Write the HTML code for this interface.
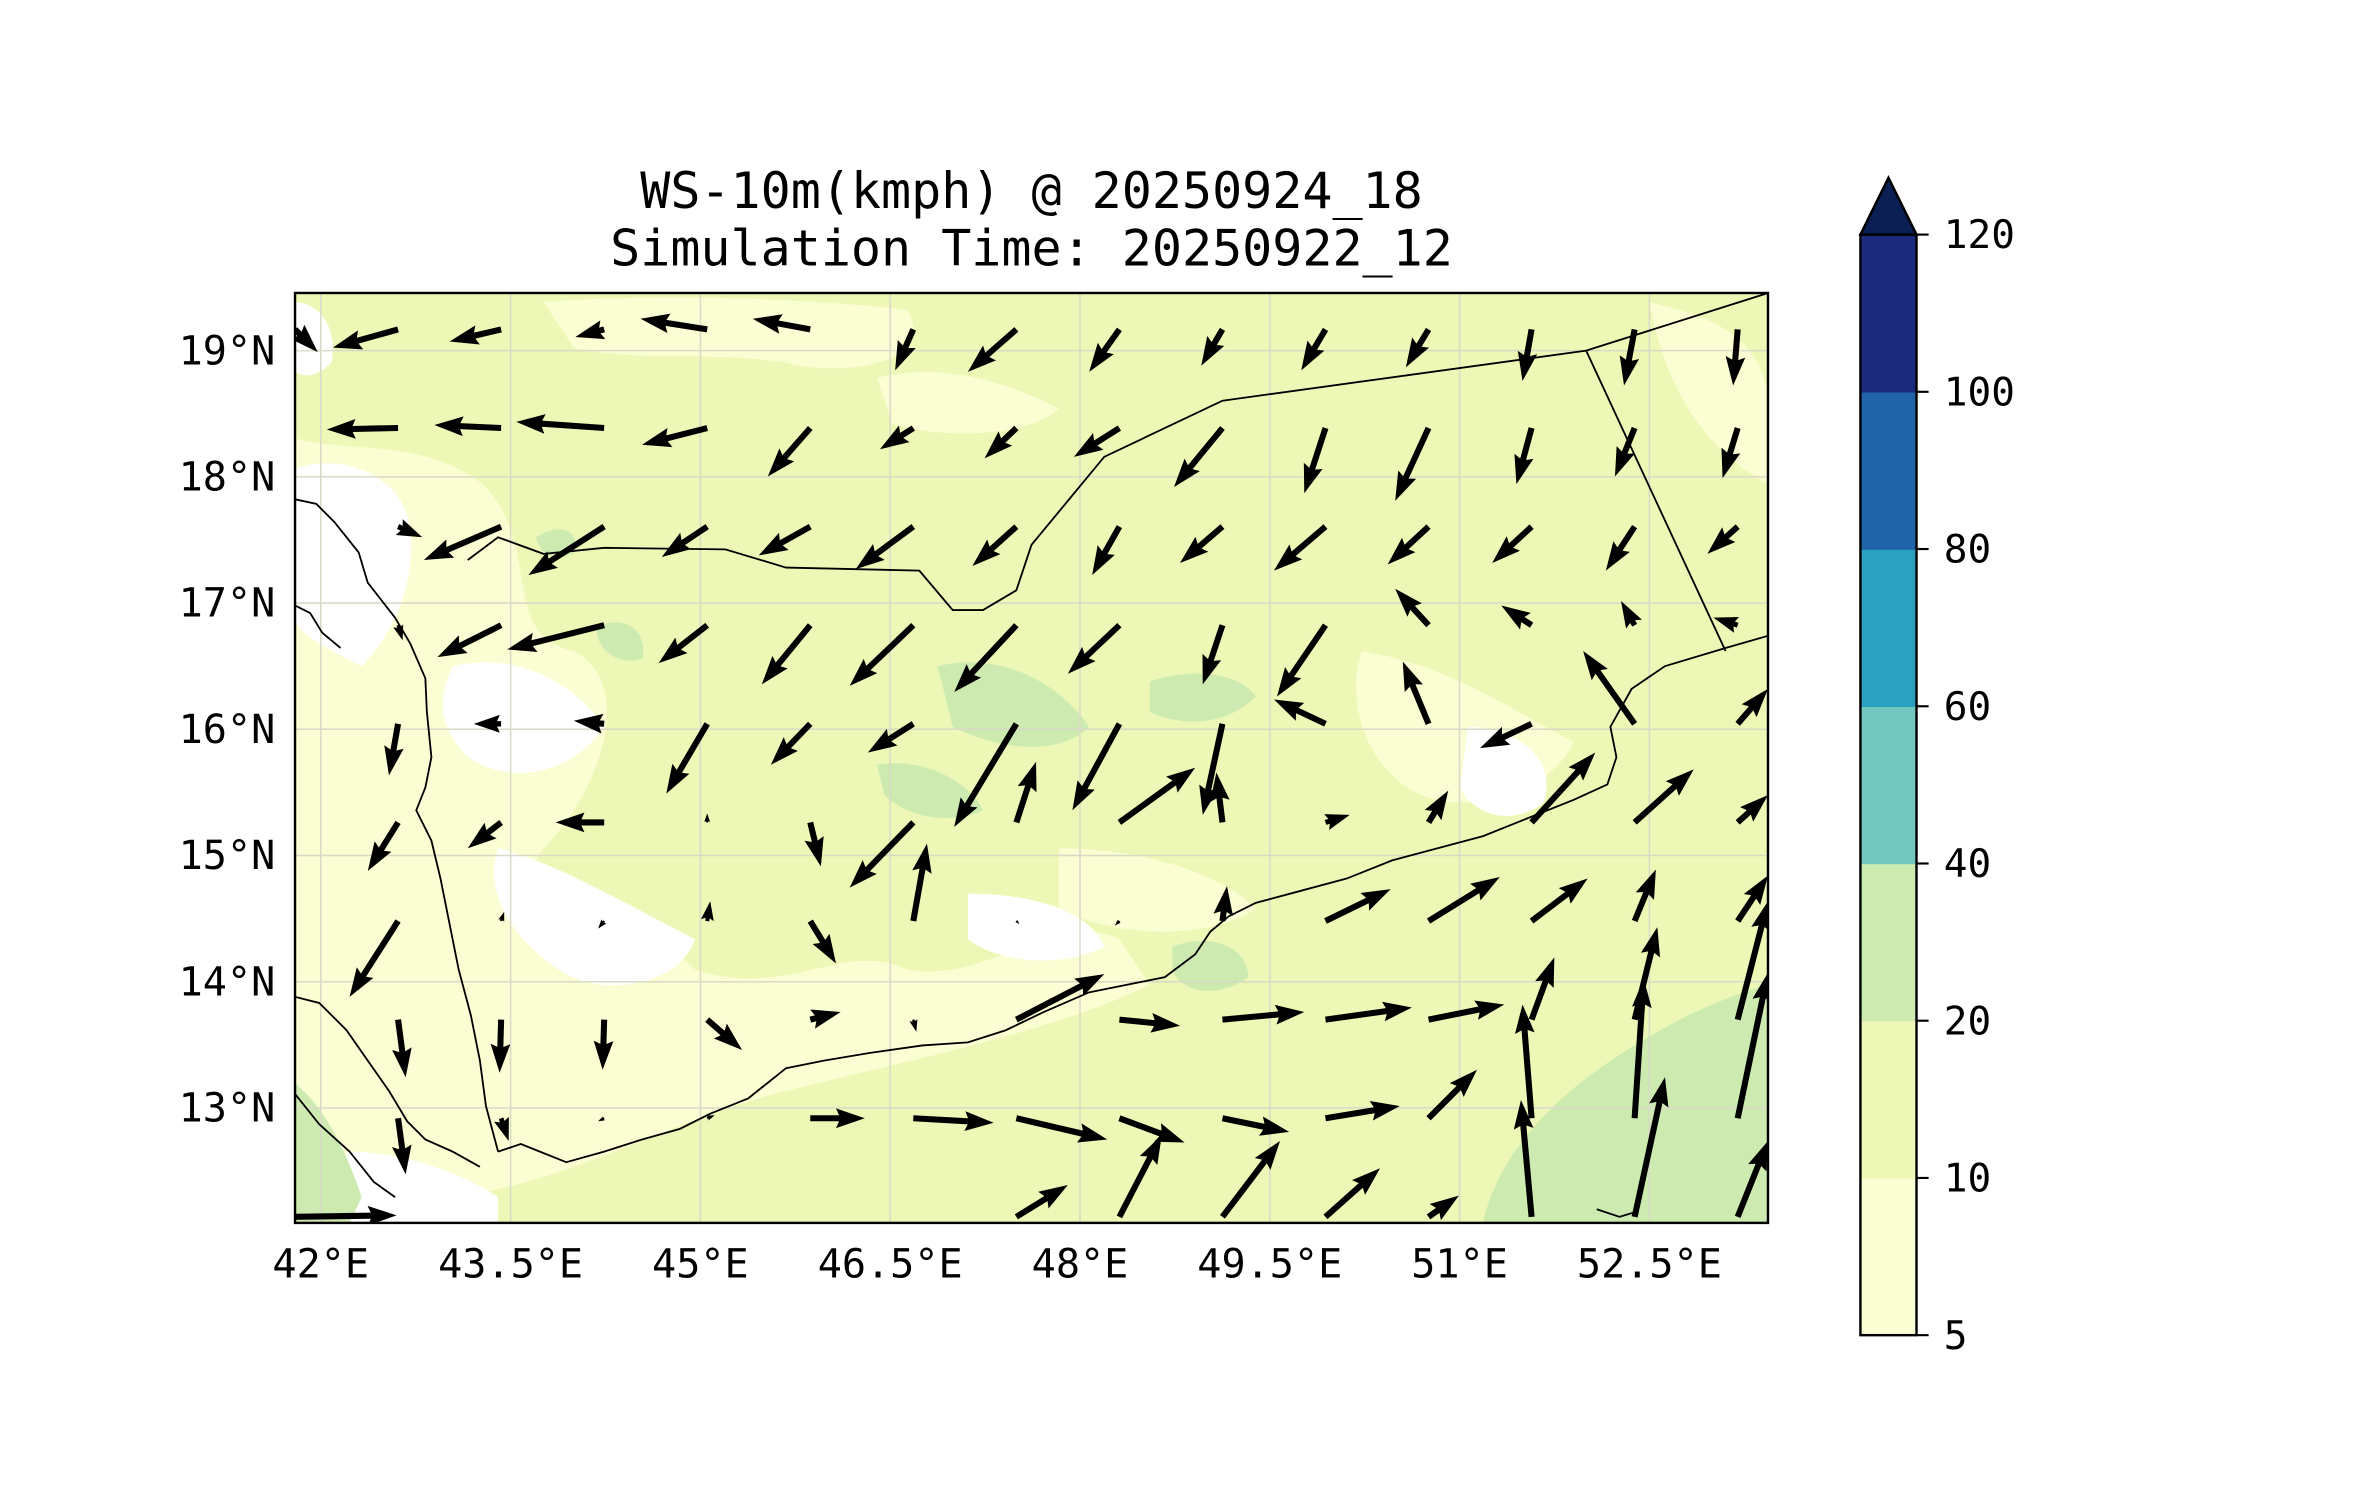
<!DOCTYPE html>
<html><head><meta charset="utf-8"><style>
html,body{margin:0;padding:0;background:#fff;}
svg{display:block;}
text{font-family:"DejaVu Sans Mono","Liberation Mono",monospace;fill:#000;}
</style></head><body>
<svg id="fig" width="2371" height="1500" viewBox="1.32 0.86 1564.6 988.8" preserveAspectRatio="none" xmlns="http://www.w3.org/2000/svg">
<defs><clipPath id="pc"><rect x="196" y="194" width="972" height="613"/></clipPath></defs>
<text x="682" y="138" font-size="33" text-anchor="middle">WS-10m(kmph) @ 20250924_18</text>
<text x="682" y="176" font-size="33" text-anchor="middle">Simulation Time: 20250922_12</text>
<g clip-path="url(#pc)">
<rect x="196" y="194" width="972" height="613" fill="#eef8b6"/>
<g fill="#fbfdd2">
<path d="M196,290 C240,300 280,290 320,320 C360,360 330,420 380,430 C420,450 400,520 360,560 C330,600 420,600 460,640 C520,660 560,620 600,640 C650,650 700,600 740,620 L760,650 C700,680 600,700 520,720 C440,740 380,780 300,790 L196,790 Z"/>
<path d="M360,200 C420,195 520,196 600,205 C620,240 560,250 520,240 C470,232 420,240 380,230 Z"/>
<path d="M580,250 C620,240 660,250 700,270 C680,290 620,290 590,280 Z"/>
<path d="M900,430 C960,440 1000,470 1040,490 C1020,530 960,540 930,520 C900,500 890,460 900,430 Z"/>
<path d="M700,560 C740,560 800,570 830,600 C800,620 740,620 700,600 Z"/>
<path d="M1090,200 C1130,210 1160,220 1168,260 L1168,320 C1130,300 1100,260 1090,200 Z"/>
</g>
<g fill="#ffffff">
<path d="M196,310 C220,300 260,310 270,340 C280,380 260,420 240,440 C220,430 200,420 196,410 Z"/>
<path d="M300,440 C340,430 380,450 400,480 C380,510 340,520 310,500 C290,480 290,460 300,440 Z"/>
<path d="M330,560 C370,570 420,600 460,620 C450,650 400,660 370,640 C340,620 320,590 330,560 Z"/>
<path d="M640,590 C680,590 720,600 730,625 C700,640 660,635 640,620 Z"/>
<path d="M970,480 C1000,480 1030,500 1020,530 C1000,545 975,540 965,520 Z"/>
<path d="M196,200 C210,200 225,215 220,240 C210,250 200,250 196,245 Z"/>
<path d="M230,760 C260,760 300,770 330,790 L330,807 L230,807 Z"/>
</g>
<g fill="#cdebb1">
<path d="M980,807 C990,760 1030,720 1080,690 C1120,665 1150,655 1168,650 L1168,807 Z"/>
<path d="M196,715 C215,730 230,760 240,790 L232,807 L196,807 Z"/>
<path d="M620,440 C660,430 700,450 720,480 C700,500 660,495 630,480 Z"/>
<path d="M760,450 C790,440 820,445 830,460 C810,480 780,480 760,470 Z"/>
<path d="M775,625 C800,615 825,625 825,645 C805,660 780,655 775,640 Z"/>
<path d="M580,505 C610,500 640,515 650,535 C630,545 600,540 585,525 Z"/>
<path d="M395,415 C410,405 430,415 425,435 C410,440 395,430 395,415 Z"/>
<path d="M355,355 C370,345 385,350 380,365 C370,372 358,368 355,355 Z"/>
</g>
<g stroke="#d9d9c8" stroke-width="1" fill="none" id="grid"></g>
<g fill="none" stroke="#000" stroke-width="1.2">
<path d="M196,330 L210,333 L222,345 L238,365 L244,385 L262,408 L272,425 L282,448 L283,470 L286,500 L282,520 L276,535 L286,555 L292,580 L298,610 L304,640 L312,670 L318,700 L322,730 L330,760"/>
<path d="M330,760 L345,755 L375,767 L400,760 L425,752 L450,745 L470,735 L495,725 L520,705 L545,700 L575,695 L610,690 L640,688 L665,680 L690,668 L720,655 L745,650 L770,645 L790,630 L800,615 L812,605 L830,596 L860,588 L890,580 L920,568 L950,560 L980,552 L1010,540 L1040,528 L1062,518 L1068,500 L1064,480 L1078,455 L1100,440 L1140,428 L1168,420"/>
<path d="M196,658 L212,662 L230,680 L244,700 L258,720 L270,740 L282,752 L300,760 L318,770"/>
<path d="M196,722 L212,742 L232,760 L248,780 L262,790"/>
<path d="M196,400 L206,405 L214,418 L226,428"/>
<path d="M310,370 L330,355 L360,366 L400,362 L480,363 L520,375 L608,377 L630,403 L650,403 L672,390 L682,360 L730,302 L808,265 L1048,232 L1168,194"/>
<path d="M1048,232 L1140,430"/>
<path d="M1055,798 L1070,803 L1080,800"/>
</g>
<g id="arrows"></g>
</g>
<rect x="196" y="194" width="972" height="613" fill="none" stroke="#000" stroke-width="1.6"/>
<g id="xt"></g>
<g id="yt"></g>
<g id="cb"></g>
</svg>
<script>
const lonTicks=[42,43.5,45,46.5,48,49.5,51,52.5];
const latTicks=[13,14,15,16,17,18,19];
const cbLevels=[5,10,20,40,60,80,100,120];
const cbColors=["#fbfdd2","#eef8b6","#cdebb1","#73c8bd","#2ca0c1","#2163a9","#1d2a7e"];
const cbExtendColor="#0b1f55";
// wind components (u east, v north) on the quiver grid, rows north->south
const uRows=[
[15,-43,-34,-19,-44,-38,-12,-32,-20,-14,-16,-15,-6,-7,-3],
[-14,-47,-44,-58,-43,-28,-22,-21,-30,-32,-14,-22,-10,-13,-10],
[0,16,-51,-50,-30,-34,-38,-29,-18,-28,-34,-27,-26,-19,-20],
[0,3,-42,-64,-32,-32,-42,-41,-34,-13,-32,-22,-20,-9,-16],
[0,-6,-18,-20,-27,-26,-30,-41,-31,-13,-34,-17,-34,-34,20],
[0,-20,-22,-32,0,7,-42,13,50,-4,16,13,42,39,20],
[0,-32,2,-4,2,17,9,2,-3,3,43,47,37,14,20],
[0,5,-1,-1,23,20,2,58,40,54,57,50,15,15,20],
[0,5,5,-4,5,36,53,60,43,44,49,32,-6,6,20],
[67,0,0,0,0,0,0,34,28,38,36,20,-7,20,20]];
const vRows=[
[-15,-12,-8,-5,7,7,-27,-28,-28,-24,-27,-25,-34,-37,-37],
[0,-1,2,4,-11,-32,-14,-20,-19,-39,-43,-48,-37,-32,-33],
[0,-7,-22,-32,-20,-19,-28,-26,-32,-24,-29,-25,-24,-29,-18],
[0,-10,-21,-16,-25,-39,-40,-44,-32,-39,-47,24,13,16,5],
[0,-34,0,2,-46,-27,-19,-68,-57,-60,16,41,-16,48,23],
[0,-32,-17,0,6,-29,-43,40,36,33,5,21,46,35,18],
[0,-50,6,-5,13,-28,51,-2,-3,23,21,29,28,34,30],
[0,-38,-35,-33,-20,5,-8,30,-4,5,8,10,41,61,78],
[0,-37,-15,-2,2,0,-3,-14,-16,-9,8,32,75,92,96],
[1,0,0,0,0,0,0,21,54,50,32,14,77,92,50]];
const NS="http://www.w3.org/2000/svg";
function mk(t,a,p){const e=document.createElementNS(NS,t);for(const k in a)e.setAttribute(k,a[k]);p.appendChild(e);return e;}
const xOf=lon=>213+83.5*(lon-42);
const yOf=lat=>232+83.2*(19-lat);
const grid=document.getElementById('grid');
lonTicks.forEach(l=>{const g=mk('line',{x1:xOf(l),x2:xOf(l),y1:194,y2:807},grid);

});
latTicks.forEach(l=>{const g=mk('line',{x1:196,x2:1168,y1:yOf(l),y2:yOf(l)},grid);

});
const xt=document.getElementById('xt');
lonTicks.forEach(l=>{const t=mk('text',{x:xOf(l),y:843,'font-size':26.5,'text-anchor':'middle'},xt);t.textContent=l+'°E';

});
const yt=document.getElementById('yt');
latTicks.forEach(l=>{const t=mk('text',{x:183,y:yOf(l)+9,'font-size':26.5,'text-anchor':'end'},yt);t.textContent=l+'°N';

});
const ag=document.getElementById('arrows');
const gx=i=>196+68*i, gy=j=>218+65*j;
uRows.forEach((row,j)=>row.forEach((u,i)=>{
 const v=vRows[j][i]; const L=Math.hypot(u,v); if(L<2)return;
 let hw=2,hl=19,hb=17,hh=6.5;
 if(L<hl*1.05){const s=L/(hl*1.05);hl*=s;hb*=s;hh*=s;hw=Math.max(hw*s,0.8);}
 const pts=[[0,-hw],[L-hb,-hw],[L-hl,-hh],[L,0],[L-hl,hh],[L-hb,hw],[0,hw]];
 const ang=Math.atan2(-v,u)*180/Math.PI;
 const p=mk('polygon',{points:pts.map(q=>q.join(',')).join(' '),fill:'#000',transform:`translate(${gx(i)},${gy(j)}) rotate(${ang})`},ag);
 
 
}));
const cb=document.getElementById('cb');
const cbL=1229,cbR=1266,cbT=155.5,cbB=881,step=(cbB-cbT)/(cbLevels.length-1);
cbColors.forEach((c,k)=>{const r=mk('rect',{x:cbL,y:cbB-step*(k+1),width:cbR-cbL,height:step+0.5,fill:c},cb);

});
const tri=mk('polygon',{points:`${cbL},${cbT} ${(cbL+cbR)/2},118 ${cbR},${cbT}`,fill:cbExtendColor,stroke:'#000','stroke-width':1.6},cb);


const fr=mk('rect',{x:cbL,y:cbT,width:cbR-cbL,height:cbB-cbT,fill:'none',stroke:'#000','stroke-width':1.6},cb);


cbLevels.forEach((lv,k)=>{const y=cbB-step*k;
 const tk=mk('line',{x1:cbR,x2:cbR+8,y1:y,y2:y,stroke:'#000','stroke-width':1.4},cb);
 
 
 const t=mk('text',{x:1284,y:y+9,'font-size':26},cb);t.textContent=lv;
 
 });
</script>
</body></html>
